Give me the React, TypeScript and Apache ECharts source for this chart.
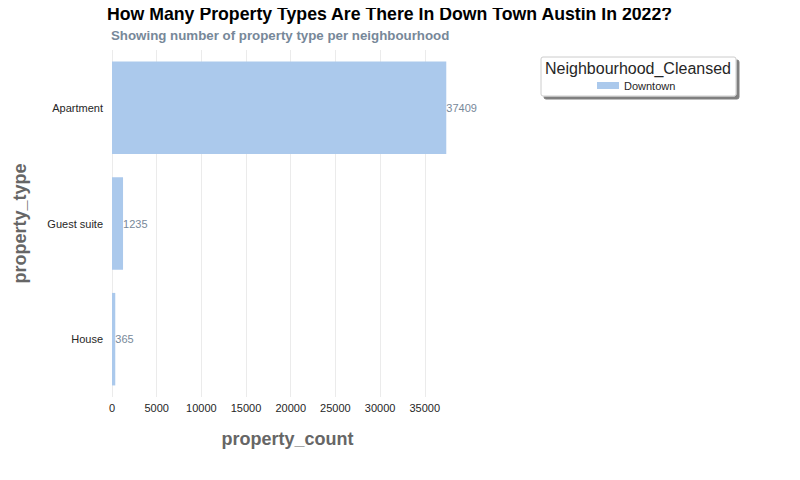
import React, { useEffect, useRef } from "react";
import * as echarts from "echarts";

const categories = ["Apartment", "Guest suite", "House"];
const counts = [37409, 1235, 365];
const seriesName = "Downtown";

const FONT = "Liberation Sans, Arial, sans-serif";

export default function App() {
  const ref = useRef<HTMLDivElement>(null);
  useEffect(() => {
    if (!ref.current) return;
    const chart = echarts.init(ref.current, undefined, { renderer: "svg" });
    chart.setOption({
      animation: false,
      backgroundColor: "#ffffff",
      textStyle: { fontFamily: FONT },
      title: [
        {
          text: "How Many Property Types Are There In Down Town Austin In 2022?",
          left: 107,
          top: 5,
          padding: 0,
          textStyle: { fontSize: 17.7, fontWeight: "bold", color: "#000000", fontFamily: FONT },
        },
        {
          text: "Showing number of property type per neighbourhood",
          left: 111,
          top: 29,
          padding: 0,
          textStyle: { fontSize: 13.3, fontWeight: "bold", color: "#778899", fontFamily: FONT },
        },
      ],
      legend: {
        data: [seriesName],
        left: 597,
        top: 80,
        padding: 0,
        itemWidth: 22,
        itemHeight: 7,
        icon: "rect",
        itemGap: 8,
        textStyle: { fontSize: 11, color: "#262626", fontFamily: FONT },
      },
      graphic: [
        {
          type: "rect",
          shape: { x: 541, y: 57, width: 195, height: 39, r: 2 },
          style: {
            fill: "#ffffff",
            stroke: "#cccccc",
            lineWidth: 1,
            shadowColor: "rgba(0,0,0,0.5)",
            shadowOffsetX: 3,
            shadowOffsetY: 3,
            shadowBlur: 0,
          },
          z: 0,
        },
        {
          type: "text",
          x: 638,
          y: 68,
          style: {
            text: "Neighbourhood_Cleansed",
            fontSize: 16,
            fill: "#262626",
            fontFamily: FONT,
            textAlign: "center",
            textVerticalAlign: "middle",
          },
          z: 1,
        },
      ],
      grid: { left: 112, top: 50, width: 351, height: 347 },
      xAxis: {
        type: "value",
        min: 0,
        max: 39280,
        interval: 5000,
        name: "property_count",
        nameLocation: "middle",
        nameGap: 33,
        nameTextStyle: { fontSize: 18, fontWeight: "bold", color: "#666666", fontFamily: FONT },
        axisLine: { show: false },
        axisTick: { show: false },
        axisLabel: {
          showMaxLabel: false,
          fontSize: 11,
          color: "#262626",
          margin: 5,
          fontFamily: FONT,
          formatter: (v: number) => String(v),
        },
        splitLine: { show: true, showMaxLine: false, lineStyle: { color: "#ebebeb", width: 1 } },
      },
      yAxis: {
        type: "category",
        data: categories,
        inverse: true,
        name: "property_type",
        nameLocation: "middle",
        nameGap: 83,
        nameTextStyle: { fontSize: 18, fontWeight: "bold", color: "#666666", fontFamily: FONT },
        axisLine: { show: false },
        axisTick: { show: false },
        axisLabel: { fontSize: 11, color: "#262626", margin: 9, fontFamily: FONT },
        splitLine: { show: false },
      },
      series: [
        {
          name: seriesName,
          type: "bar",
          data: counts,
          barCategoryGap: "20%",
          itemStyle: { color: "#abc9ec" },
          label: {
            show: true,
            position: "right",
            distance: 0,
            fontSize: 11,
            color: "#778899",
            fontFamily: FONT,
          },
        },
      ],
    });
    return () => chart.dispose();
  }, []);
  return <div ref={ref} style={{ width: 800, height: 480, margin: -8 }} />;
}
